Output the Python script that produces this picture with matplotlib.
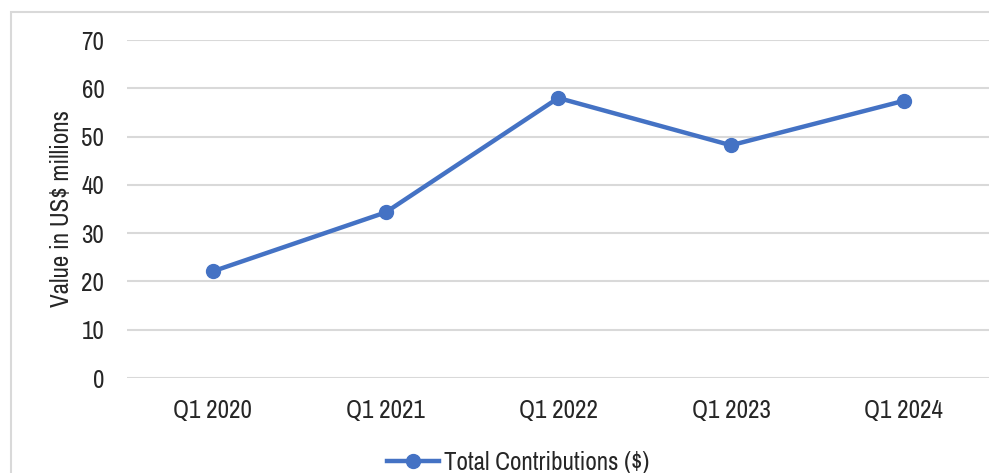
import matplotlib.pyplot as plt
from matplotlib import font_manager
from matplotlib.patches import Rectangle

# Quarterly totals (US$ millions)
quarters = ['Q1 2020', 'Q1 2021', 'Q1 2022', 'Q1 2023', 'Q1 2024']
contributions = [22.1, 34.3, 58.0, 48.2, 57.4]
yticks = [0, 10, 20, 30, 40, 50, 60, 70]

# narrow grotesque if available, otherwise plain Liberation Sans
installed = {f.name for f in font_manager.fontManager.ttflist}
if 'Archivo Narrow' in installed:
    plt.rcParams['font.family'] = ['Archivo Narrow', 'DejaVu Sans']
    fs = 18
else:
    plt.rcParams['font.family'] = ['Liberation Sans', 'DejaVu Sans']
    fs = 15

fig = plt.figure(figsize=(9.89, 4.73), dpi=100, facecolor='white')
ax = fig.add_axes([0.128, 0.2008, 0.873, 0.7146])

x = list(range(len(quarters)))
ax.plot(x, contributions, color='#4472C4', linewidth=3.2, marker='o',
        markersize=10, label='Total Contributions ($)', zorder=3)

ax.set_xlim(-0.5, len(quarters) - 0.5)
ax.set_ylim(0, 70)
ax.set_yticks(yticks)
ax.set_xticks(x)
ax.set_xticklabels(quarters)
ax.grid(True, axis='y', color='#d9d9d9', linewidth=1.5)
ax.set_axisbelow(True)
for s in ax.spines.values():
    s.set_visible(False)
ax.tick_params(length=0, labelsize=fs, colors='#262626')
ax.tick_params(axis='y', pad=16)
ax.tick_params(axis='x', pad=15)
ax.set_ylabel('Value in US$ millions', fontsize=fs, color='#262626', labelpad=6)

# chart area border
fig.patches.append(Rectangle((11 / 989, -0.1), 1.2, 1.1 - 12 / 473,
                             transform=fig.transFigure, fill=False,
                             edgecolor='#d9d9d9', linewidth=1.5))

fig.legend(loc='center', bbox_to_anchor=(518 / 989, 1 - 462 / 473),
           frameon=False, fontsize=fs, handlelength=2.1, handletextpad=0.2,
           labelcolor='#262626')

fig.savefig('out.png', dpi=100)
